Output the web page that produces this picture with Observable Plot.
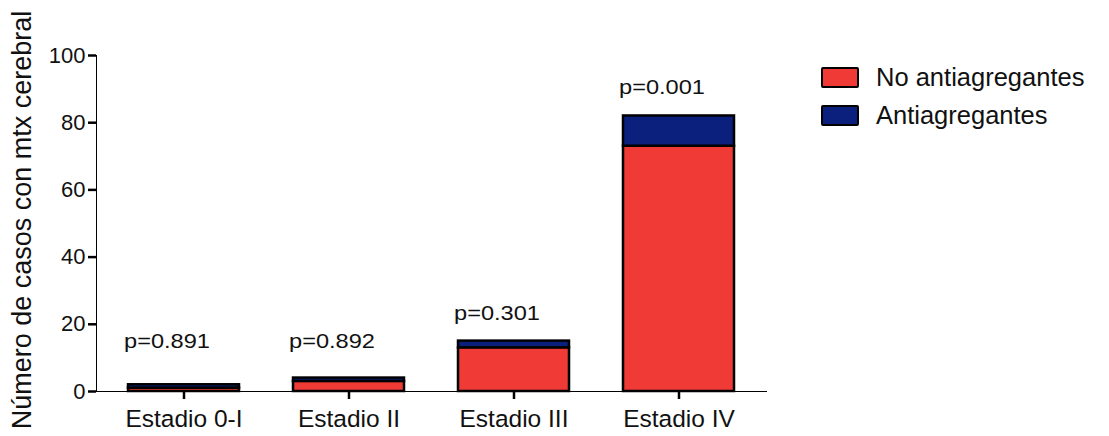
<!DOCTYPE html>
<html>
<head>
<meta charset="utf-8">
<script src="https://cdn.jsdelivr.net/npm/d3@7"></script>
<script src="https://cdn.jsdelivr.net/npm/@observablehq/plot@0.6"></script>
<style>
  body { margin: 0; background: #fff; }
  #wrap { position: relative; width: 1109px; height: 436px; font-family: "Liberation Sans", Arial, Helvetica, sans-serif; color: #000; }
  #wrap svg text { fill: #111; }
  #wrap g[aria-label^="y-axis"] text { font-size: 22px; }
  #wrap g[aria-label^="x-axis"] text { font-size: 24.5px; }
  #wrap g[aria-label^="x-axis"] line, #wrap g[aria-label^="x-axis"] path,
  #wrap g[aria-label^="y-axis"] line, #wrap g[aria-label^="y-axis"] path { stroke: #000; stroke-width: 2.5px; }
  .legend { position: absolute; left: 821px; top: 67px; }
  .legend .row { display: flex; align-items: center; height: 21px; margin-bottom: 17px; }
  .legend .sw { width: 34px; height: 17px; border: 2.5px solid #000; border-radius: 2px; margin-right: 17px; }
  .legend .lab { font-size: 25.5px; color: #111; white-space: nowrap; }
</style>
</head>
<body>
<div id="wrap"></div>
<script>
// Brain metastasis cases per stage, split by antiplatelet use
const stages = ["Estadio 0-I", "Estadio II", "Estadio III", "Estadio IV"];
const noAnti = [1, 3, 13, 73];
const anti = [1, 1, 2, 9];
const pValues = ["p=0.891", "p=0.892", "p=0.301", "p=0.001"];
const series = ["No antiagregantes", "Antiagregantes"];
const colors = ["#ef3a36", "#0b1f7c"];
const yTicks = [0, 20, 40, 60, 80, 100];
const yTitle = "Número de casos con mtx cerebral";

const rows = stages.flatMap((s, i) => [
  {stage: s, group: series[0], n: noAnti[i]},
  {stage: s, group: series[1], n: anti[i]}
]);
const totals = stages.map((s, i) => ({stage: s, total: noAnti[i] + anti[i], p: pValues[i]}));

const chart = Plot.plot({
  width: 1109,
  height: 436,
  marginLeft: 96,
  marginRight: 343,
  marginTop: 55,
  marginBottom: 45,
  style: {fontFamily: "'Liberation Sans', Arial, Helvetica, sans-serif", background: "white", color: "black", overflow: "visible"},
  x: {domain: stages, paddingInner: 0.325, paddingOuter: 0.19, tickSize: 8, tickPadding: 10, label: null, line: true},
  y: {domain: [0, 100], ticks: yTicks, tickSize: 8, tickPadding: 3, label: null, line: true},
  color: {domain: series, range: colors},
  marks: [
    Plot.barY(rows, {x: "stage", y: "n", fill: "group", stroke: "black", strokeWidth: 2.5}),
    // p-values sit above each bar, with a floor for the short bars
    Plot.text(totals, {x: "stage", y: d => Math.max(d.total, 6.5), text: "p", dx: -17, dy: -28, fontSize: 20}),
    Plot.text([yTitle], {frameAnchor: "left", textAnchor: "middle", rotate: -90, dx: -74.6, dy: -3.5, fontSize: 27})
  ]
});

document.getElementById("wrap").appendChild(chart);

// widen the p-value labels slightly around their anchor
d3.select(chart).selectAll("text")
  .filter(function() { return /^p=/.test(this.textContent); })
  .each(function() {
    const t = this.getAttribute("transform");
    if (t) {
      this.setAttribute("transform", `${t} scale(1.18,1)`);
    } else {
      const x = parseFloat(this.getAttribute("x")) || 0;
      this.setAttribute("transform", `translate(${x},0) scale(1.18,1) translate(${-x},0)`);
    }
  });

// legend
const legend = d3.select("#wrap").append("div").attr("class", "legend");
series.forEach((s, i) => {
  const row = legend.append("div").attr("class", "row");
  row.append("div").attr("class", "sw").style("background", colors[i]);
  row.append("div").attr("class", "lab").text(s);
});
</script>
</body>
</html>
